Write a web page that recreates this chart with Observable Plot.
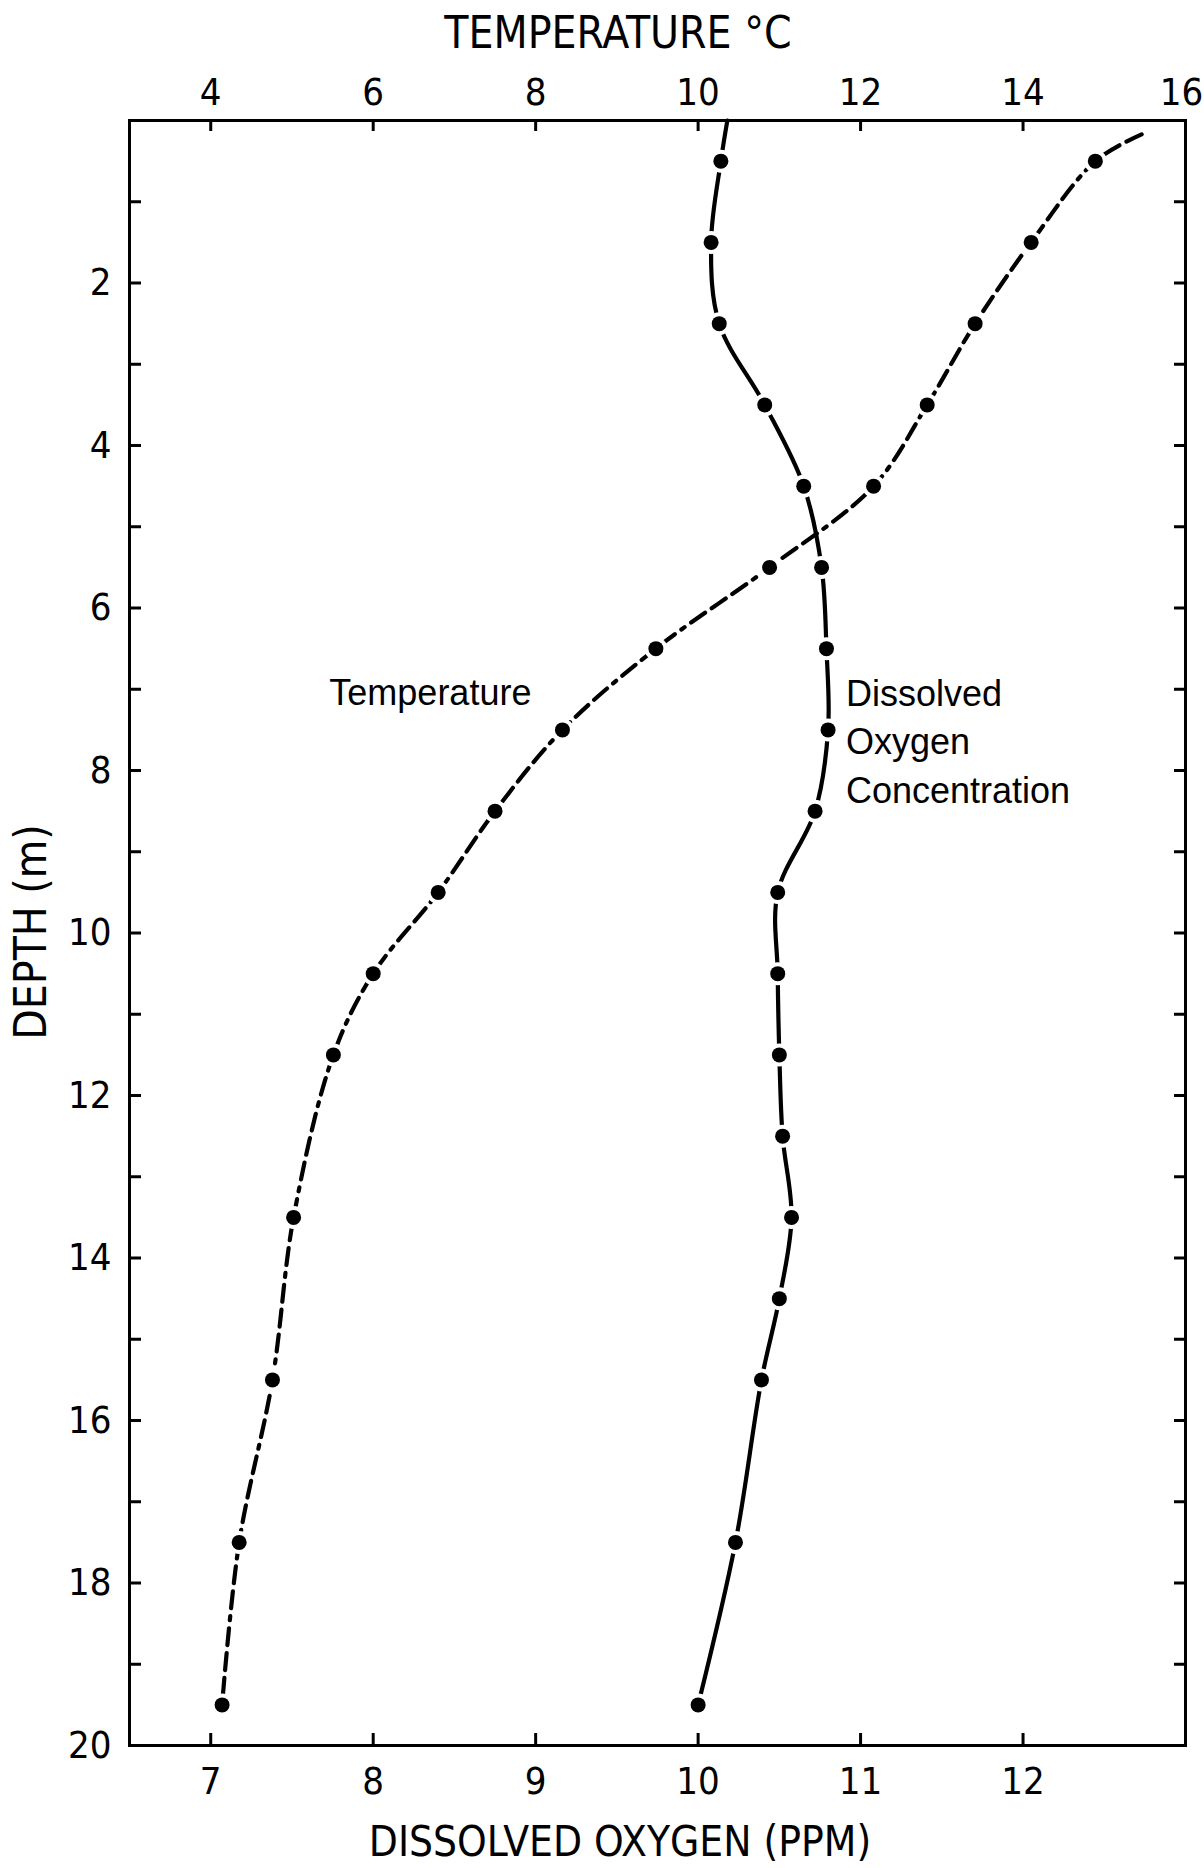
<!DOCTYPE html>
<html>
<head>
<meta charset="utf-8">
<script src="https://cdn.jsdelivr.net/npm/d3@7"></script>
<script src="https://cdn.jsdelivr.net/npm/@observablehq/plot@0.6"></script>
<style>
  html, body { margin: 0; padding: 0; background: #fff; }
  #chart svg { display: block; }
</style>
</head>
<body>
<div id="chart"></div>
<script>
// Vertical profile of a lake: water temperature and dissolved oxygen against depth.

// Temperature samples (°C) by depth (m)
const tempDepths = [0.5, 1.5, 2.5, 3.5, 4.5, 5.5, 6.5, 7.5, 8.5, 9.5, 10.5, 11.5, 13.5, 15.5, 17.5, 19.5];
const tempValues = [14.89, 14.10, 13.41, 12.82, 12.16, 10.88, 9.48, 8.33, 7.50, 6.80, 6.00, 5.51, 5.02, 4.76, 4.35, 4.14];

// Dissolved oxygen samples (ppm) by depth (m)
const oxyDepths = [0.5, 1.5, 2.5, 3.5, 4.5, 5.5, 6.5, 7.5, 8.5, 9.5, 10.5, 11.5, 12.5, 13.5, 14.5, 15.5, 17.5, 19.5];
const oxyValues = [10.14, 10.08, 10.13, 10.41, 10.65, 10.76, 10.79, 10.80, 10.72, 10.49, 10.49, 10.50, 10.52, 10.575, 10.50, 10.39, 10.23, 10.00];

// Where each drawn curve begins near the surface, above the first sample: [depth, value]
const tempCurveTop = [0.17, 15.46];
const oxyCurveTop = [0.0, 10.18];

// Axis ticks
const depthTicks = [1, 2, 3, 4, 5, 6, 7, 8, 9, 10, 11, 12, 13, 14, 15, 16, 17, 18, 19];
const depthLabels = [2, 4, 6, 8, 10, 12, 14, 16, 18, 20];
const oxyTicks = [7, 8, 9, 10, 11, 12];
const tempTicks = [4, 6, 8, 10, 12, 14];
const tempCornerLabel = 16;

// Annotations
const seriesNotes = [
  {oxy: 7.73, depth: 7.19, text: "Temperature"},
  {oxy: 10.91, depth: 8.40, text: "Dissolved\nOxygen\nConcentration"}
];

// The temperature scale shares the horizontal axis: 4 °C sits on 7 ppm, 2 °C per ppm.
const tempToOxy = t => 7 + (t - 4) / 2;
const oxyToTemp = x => 4 + 2 * (x - 7);

const temp = tempDepths.map((depth, i) => ({depth, value: tempValues[i]}));
const oxy = oxyDepths.map((depth, i) => ({depth, value: oxyValues[i]}));
const tempCurve = [{depth: tempCurveTop[0], value: tempCurveTop[1]}, ...temp];
const oxyCurve = [{depth: oxyCurveTop[0], value: oxyCurveTop[1]}, ...oxy];

const bodyFont = "'Liberation Sans', Arial, sans-serif";
const narrowFont = "'Liberation Sans Narrow', 'DejaVu Sans Condensed', 'Liberation Sans', sans-serif";
const TICK = 12;
const LABEL_SIZE = 38;
const tempLabel = x => String(Math.round(oxyToTemp(x)));

const chart = Plot.plot({
  width: 1204,
  height: 1868,
  marginTop: 120,
  marginBottom: 123,
  marginLeft: 129,
  marginRight: 19,
  style: {background: "#fff", color: "#000", fontFamily: narrowFont},
  x: {domain: [6.5, 13], label: null},
  y: {domain: [0, 20], reverse: true, label: null},
  marks: [
    // inward tick marks on all four sides
    Plot.axisY(depthTicks, {anchor: "left", tickSize: TICK, dx: TICK, tickFormat: () => "", strokeWidth: 3, label: null}),
    Plot.axisY(depthTicks, {anchor: "right", tickSize: TICK, dx: -TICK, tickFormat: () => "", strokeWidth: 3, label: null}),
    Plot.axisX(tempTicks.map(tempToOxy), {anchor: "top", tickSize: 10, dy: 10, tickFormat: () => "", strokeWidth: 3, label: null}),
    Plot.axisX(oxyTicks, {anchor: "bottom", tickSize: TICK, dy: -TICK, tickFormat: () => "", strokeWidth: 3, label: null}),

    // tick labels
    Plot.axisY(depthLabels, {anchor: "left", tickSize: 0, tickPadding: 18, fontSize: LABEL_SIZE,
      fontFamily: narrowFont, tickFormat: d => String(d), label: null}),
    Plot.axisX(tempTicks.map(tempToOxy), {anchor: "top", tickSize: 0, tickPadding: 16, fontSize: LABEL_SIZE,
      fontFamily: narrowFont, tickFormat: tempLabel, label: null}),
    // the last temperature label sits on the frame corner, nudged inside the page edge
    Plot.axisX([tempToOxy(tempCornerLabel)], {anchor: "top", tickSize: 0, tickPadding: 16, fontSize: LABEL_SIZE,
      fontFamily: narrowFont, tickFormat: tempLabel, dx: -4, label: null}),
    Plot.axisX(oxyTicks, {anchor: "bottom", tickSize: 0, tickPadding: 22, fontSize: LABEL_SIZE,
      fontFamily: narrowFont, tickFormat: d => String(d), label: null}),

    Plot.frame({stroke: "#000", strokeWidth: 3}),

    // profiles
    Plot.line(tempCurve, {x: d => tempToOxy(d.value), y: "depth", curve: "catmull-rom",
      stroke: "#000", strokeWidth: 4.2, strokeDasharray: "17,8,17,8,17,8,4,8"}),
    Plot.line(oxyCurve, {x: "value", y: "depth", curve: "catmull-rom", stroke: "#000", strokeWidth: 4.2}),

    // sample dots with a small clear ring that breaks the curve around them
    Plot.dot(temp, {x: d => tempToOxy(d.value), y: "depth", r: 11.5, fill: "#fff"}),
    Plot.dot(oxy, {x: "value", y: "depth", r: 11.5, fill: "#fff"}),
    Plot.dot(temp, {x: d => tempToOxy(d.value), y: "depth", r: 7.5, fill: "#000"}),
    Plot.dot(oxy, {x: "value", y: "depth", r: 7.5, fill: "#000"}),

    // series names
    Plot.text(seriesNotes, {x: "oxy", y: "depth", text: "text", textAnchor: "start", lineAnchor: "bottom",
      lineHeight: 1.35, fontSize: 36, fontFamily: bodyFont, fill: "#000"})
  ]
});

const svg = d3.select(chart);
svg.append("text")
  .attr("x", 618).attr("y", 48)
  .attr("text-anchor", "middle")
  .style("font-family", narrowFont).style("font-size", "44px").attr("fill", "#000")
  .text("TEMPERATURE °C");
svg.append("text")
  .attr("x", 620).attr("y", 1856)
  .attr("text-anchor", "middle")
  .style("font-family", narrowFont).style("font-size", "42px").attr("fill", "#000")
  .text("DISSOLVED OXYGEN (PPM)");
svg.append("text")
  .attr("transform", "translate(46,932) rotate(-90)")
  .attr("text-anchor", "middle")
  .style("font-family", narrowFont).style("font-size", "44px").attr("fill", "#000")
  .text("DEPTH (m)");

document.getElementById("chart").append(chart);
</script>
</body>
</html>
